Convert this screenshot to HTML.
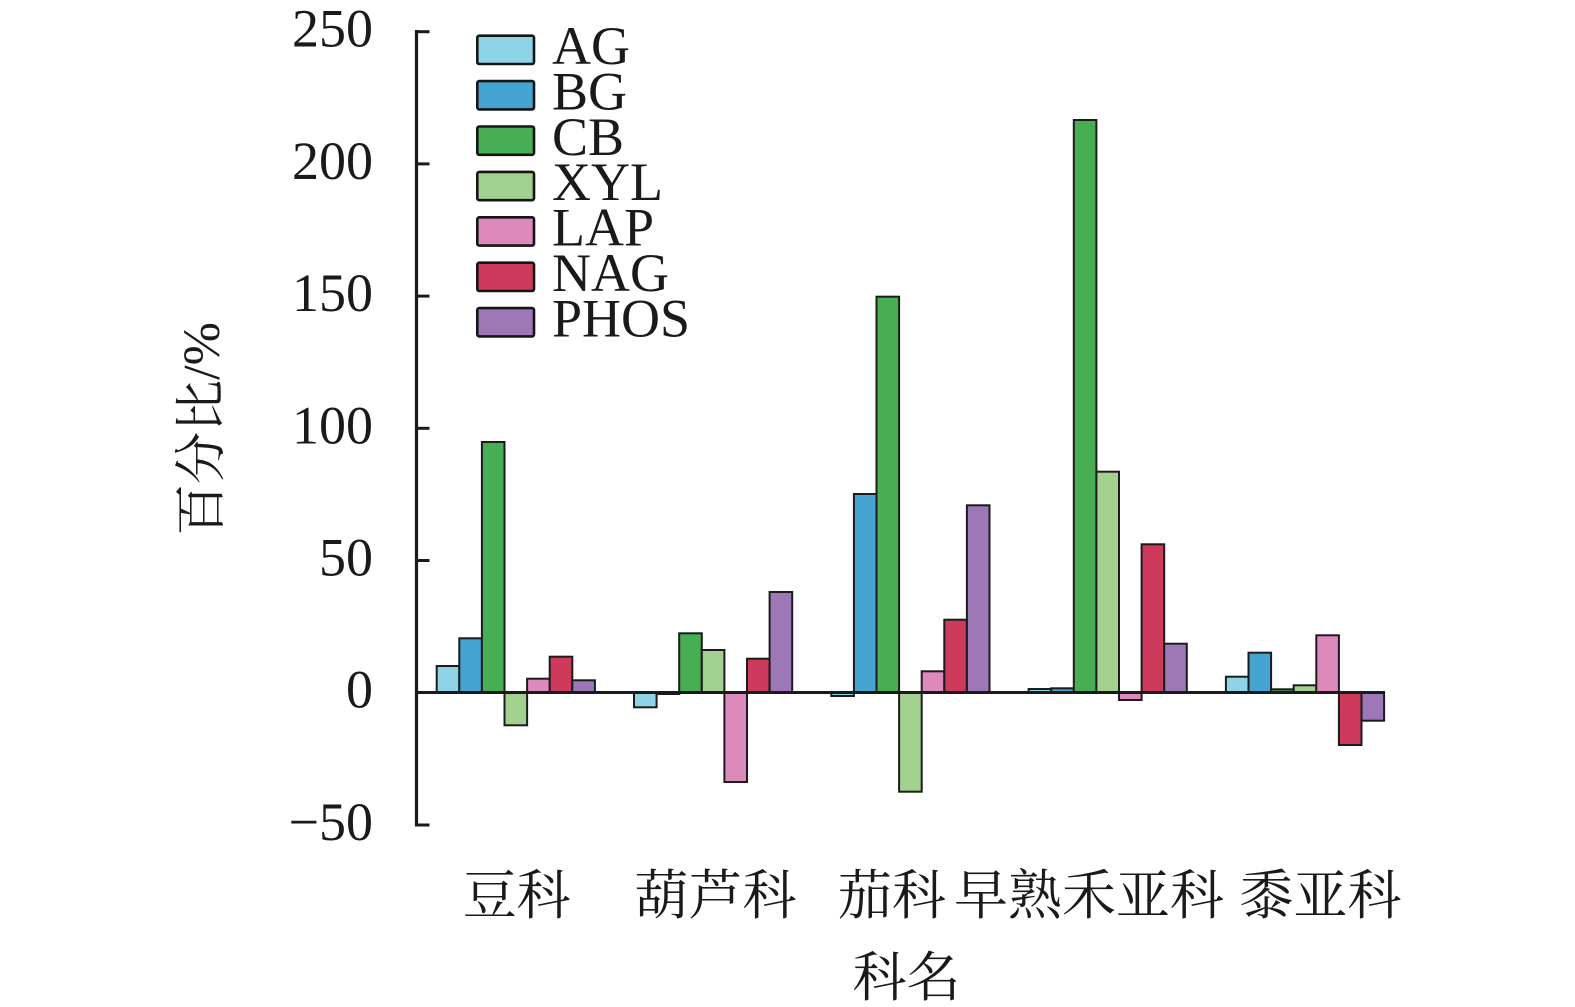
<!DOCTYPE html>
<html>
<head>
<meta charset="utf-8">
<style>
  html, body { margin: 0; padding: 0; background: #ffffff; }
  body { width: 1575px; height: 1007px; overflow: hidden; }
  svg { display: block; }
  .num { font-family: "Liberation Serif", "Noto Serif CJK SC", serif; font-size: 54px; fill: #1a1a1a; }
  .cjk { font-family: "Liberation Serif", "Noto Serif CJK SC", "Noto Sans CJK SC", serif; font-size: 54px; fill: #1a1a1a; }
  .bars rect { stroke: #1c1c1c; stroke-width: 2; }
</style>
</head>
<body>
<svg width="1575" height="1007" viewBox="0 0 1575 1007" xmlns="http://www.w3.org/2000/svg">
  <rect x="0" y="0" width="1575" height="1007" fill="#ffffff"/>

  <!-- Y axis -->
  <line x1="416.5" y1="30" x2="416.5" y2="826.5" stroke="#1a1a1a" stroke-width="3.2"/>
  <g stroke="#1a1a1a" stroke-width="3">
    <line x1="416" y1="31.7" x2="429.5" y2="31.7"/>
    <line x1="416" y1="163.9" x2="429.5" y2="163.9"/>
    <line x1="416" y1="296.1" x2="429.5" y2="296.1"/>
    <line x1="416" y1="428.3" x2="429.5" y2="428.3"/>
    <line x1="416" y1="560.5" x2="429.5" y2="560.5"/>
    <line x1="416" y1="825" x2="429.5" y2="825"/>
  </g>

  <!-- Tick labels -->
  <g class="num" text-anchor="end">
    <text x="373" y="46.7">250</text>
    <text x="373" y="178.9">200</text>
    <text x="373" y="311.1">150</text>
    <text x="373" y="443.3">100</text>
    <text x="373" y="575.5">50</text>
    <text x="373" y="707.7">0</text>
    <text x="373" y="839.9">−50</text>
  </g>

  <!-- Y title -->
  <text class="cjk" text-anchor="middle" transform="translate(219,429) rotate(-90)" style="font-size:52px">百分比/%</text>

  <!-- Bars -->
  <g class="bars">
    <!-- 豆科 -->
    <rect x="436.7" y="666" width="22.6" height="26.5" fill="#8fd3e6"/>
    <rect x="459.3" y="638.3" width="22.6" height="54.2" fill="#46a4d3"/>
    <rect x="481.9" y="442" width="22.6" height="250.5" fill="#47ae54"/>
    <rect x="504.5" y="692.5" width="22.6" height="32.8" fill="#a2d08f"/>
    <rect x="527.1" y="678.7" width="22.6" height="13.8" fill="#de89bb"/>
    <rect x="549.7" y="656.7" width="22.6" height="35.8" fill="#cd3a5c"/>
    <rect x="572.3" y="680.3" width="22.6" height="12.2" fill="#9e77b7"/>
    <!-- 葫芦科 -->
    <rect x="634.0" y="692.5" width="22.6" height="14.8" fill="#8fd3e6"/>
    <rect x="656.6" y="692.5" width="22.6" height="1.5" fill="#46a4d3"/>
    <rect x="679.2" y="633.3" width="22.6" height="59.2" fill="#47ae54"/>
    <rect x="701.8" y="650" width="22.6" height="42.5" fill="#a2d08f"/>
    <rect x="724.4" y="692.5" width="22.6" height="89.5" fill="#de89bb"/>
    <rect x="747.0" y="658.7" width="22.6" height="33.8" fill="#cd3a5c"/>
    <rect x="769.6" y="592" width="22.6" height="100.5" fill="#9e77b7"/>
    <!-- 茄科 -->
    <rect x="831.3" y="692.5" width="22.6" height="3.5" fill="#8fd3e6"/>
    <rect x="853.9" y="494" width="22.6" height="198.5" fill="#46a4d3"/>
    <rect x="876.5" y="296.7" width="22.6" height="395.8" fill="#47ae54"/>
    <rect x="899.1" y="692.5" width="22.6" height="99.2" fill="#a2d08f"/>
    <rect x="921.7" y="671.3" width="22.6" height="21.2" fill="#de89bb"/>
    <rect x="944.3" y="619.7" width="22.6" height="72.8" fill="#cd3a5c"/>
    <rect x="966.9" y="505.3" width="22.6" height="187.2" fill="#9e77b7"/>
    <!-- 早熟禾亚科 -->
    <rect x="1028.6" y="689" width="22.6" height="3.5" fill="#8fd3e6"/>
    <rect x="1051.2" y="688.3" width="22.6" height="4.2" fill="#46a4d3"/>
    <rect x="1073.8" y="120" width="22.6" height="572.5" fill="#47ae54"/>
    <rect x="1096.4" y="471.7" width="22.6" height="220.8" fill="#a2d08f"/>
    <rect x="1119.0" y="692.5" width="22.6" height="7.5" fill="#de89bb"/>
    <rect x="1141.6" y="544.3" width="22.6" height="148.2" fill="#cd3a5c"/>
    <rect x="1164.2" y="643.7" width="22.6" height="48.8" fill="#9e77b7"/>
    <!-- 黍亚科 -->
    <rect x="1225.9" y="676.7" width="22.6" height="15.8" fill="#8fd3e6"/>
    <rect x="1248.5" y="652.7" width="22.6" height="39.8" fill="#46a4d3"/>
    <rect x="1271.1" y="689.3" width="22.6" height="3.2" fill="#47ae54"/>
    <rect x="1293.7" y="685.3" width="22.6" height="7.2" fill="#a2d08f"/>
    <rect x="1316.3" y="635.3" width="22.6" height="57.2" fill="#de89bb"/>
    <rect x="1338.9" y="692.5" width="22.6" height="52.5" fill="#cd3a5c"/>
    <rect x="1361.5" y="692.5" width="22.6" height="28.2" fill="#9e77b7"/>
  </g>

  <!-- Zero line -->
  <line x1="416" y1="692.5" x2="1385" y2="692.5" stroke="#1a1a1a" stroke-width="3"/>

  <!-- Legend -->
  <g stroke="#151515" stroke-width="2.6">
    <rect x="477.3" y="35.7" width="56.7" height="28.3" rx="2" fill="#8fd3e6"/>
    <rect x="477.3" y="81.1" width="56.7" height="28.3" rx="2" fill="#46a4d3"/>
    <rect x="477.3" y="126.5" width="56.7" height="28.3" rx="2" fill="#47ae54"/>
    <rect x="477.3" y="171.9" width="56.7" height="28.3" rx="2" fill="#a2d08f"/>
    <rect x="477.3" y="217.3" width="56.7" height="28.3" rx="2" fill="#de89bb"/>
    <rect x="477.3" y="262.7" width="56.7" height="28.3" rx="2" fill="#cd3a5c"/>
    <rect x="477.3" y="308.1" width="56.7" height="28.3" rx="2" fill="#9e77b7"/>
  </g>
  <g class="num">
    <text x="552" y="64">AG</text>
    <text x="552" y="109.4">BG</text>
    <text x="552" y="154.8">CB</text>
    <text x="552" y="200.2">XYL</text>
    <text x="552" y="245.6">LAP</text>
    <text x="552" y="291">NAG</text>
    <text x="552" y="336.4">PHOS</text>
  </g>

  <!-- Category labels -->
  <g class="cjk" text-anchor="middle">
    <text x="516.7" y="914">豆科</text>
    <text x="715.5" y="914">葫芦科</text>
    <text x="892" y="914">茄科</text>
    <text x="1089" y="914">早熟禾亚科</text>
    <text x="1320.5" y="914">黍亚科</text>
    <text x="906.5" y="996">科名</text>
  </g>
</svg>
</body>
</html>
